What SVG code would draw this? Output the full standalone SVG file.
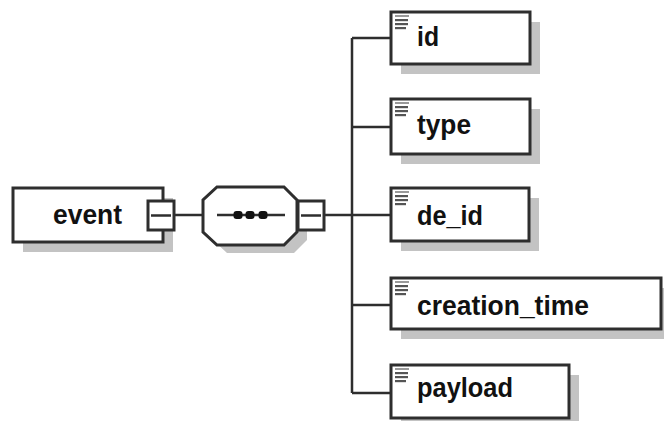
<svg xmlns="http://www.w3.org/2000/svg" width="664" height="421" viewBox="0 0 664 421">
<style>
.box{fill:#fff;stroke:#2e2e2e;stroke-width:3}
.sh{fill:#c3c3c3}
.ln{stroke:#2e2e2e;stroke-width:2.5;fill:none}
.t{font-family:"Liberation Sans",Arial,sans-serif;font-weight:bold;font-size:28px;fill:#111}
.ic{fill:#555}
</style>
<defs>
<g id="icon">
<rect x="0" y="0" width="14" height="2" fill="#999"/>
<rect x="0" y="4" width="13" height="2.2" class="ic"/>
<rect x="0" y="8" width="13" height="2.2" class="ic"/>
<rect x="0" y="12" width="11" height="2.2" class="ic"/>
</g>
</defs>
<rect width="664" height="421" fill="#fff"/>
<g id="connectors">
<line class="ln" x1="174" y1="215" x2="203" y2="215"/>
<line class="ln" x1="324" y1="215" x2="352" y2="215"/>
<line class="ln" x1="352" y1="38" x2="352" y2="393"/>
<line class="ln" x1="352" y1="38" x2="391" y2="38"/>
<line class="ln" x1="352" y1="127" x2="391" y2="127"/>
<line class="ln" x1="352" y1="215" x2="391" y2="215"/>
<line class="ln" x1="352" y1="305" x2="391" y2="305"/>
<line class="ln" x1="352" y1="393" x2="391" y2="393"/>
</g>
<g id="event">
<rect class="sh" x="23" y="198" width="150" height="54"/>
<rect class="box" x="13" y="188" width="150" height="54"/>
<text class="t" x="53" y="224" textLength="69" lengthAdjust="spacingAndGlyphs">event</text>
<rect class="box" x="148" y="201" width="26" height="29"/>
<line class="ln" x1="151" y1="215.5" x2="171" y2="215.5" stroke="#444"/>
</g>
<g id="sequence">
<polygon class="sh" points="227,195 294,195 307,208 307,240 294,253 227,253 213,240 213,208"/>
<polygon class="box" points="217,187 284,187 297,200 297,232 284,245 217,245 203,232 203,200"/>
<line class="ln" x1="217" y1="215" x2="285" y2="215"/>
<rect x="233.5" y="211" width="9" height="8" rx="3" fill="#111"/>
<rect x="245.5" y="211" width="9" height="8" rx="3" fill="#111"/>
<rect x="258.5" y="211" width="9" height="8" rx="3" fill="#111"/>
<rect class="box" x="298" y="201" width="26" height="29"/>
<line class="ln" x1="301" y1="215.5" x2="321" y2="215.5" stroke="#444"/>
</g>
<g id="id">
<rect class="sh" x="401" y="22" width="139" height="52"/>
<rect class="box" x="391" y="12" width="139" height="52"/>
<use href="#icon" x="395" y="15"/>
<text class="t" x="417" y="46" textLength="22" lengthAdjust="spacingAndGlyphs">id</text>
</g>
<g id="type">
<rect class="sh" x="401" y="109" width="139" height="55"/>
<rect class="box" x="391" y="99" width="139" height="55"/>
<use href="#icon" x="395" y="102"/>
<text class="t" x="417" y="134" textLength="54" lengthAdjust="spacingAndGlyphs">type</text>
</g>
<g id="de_id">
<rect class="sh" x="401" y="198" width="138" height="53"/>
<rect class="box" x="391" y="188" width="138" height="53"/>
<use href="#icon" x="395" y="191"/>
<text class="t" x="417" y="225" textLength="66" lengthAdjust="spacingAndGlyphs">de_id</text>
</g>
<g id="creation_time">
<rect class="sh" x="401" y="288" width="270" height="51"/>
<rect class="box" x="391" y="278" width="270" height="51"/>
<use href="#icon" x="395" y="281"/>
<text class="t" x="417" y="315" textLength="172" lengthAdjust="spacingAndGlyphs">creation_time</text>
</g>
<g id="payload">
<rect class="sh" x="401" y="375" width="178" height="53"/>
<rect class="box" x="391" y="365" width="178" height="53"/>
<use href="#icon" x="395" y="368"/>
<text class="t" x="417" y="397" textLength="96" lengthAdjust="spacingAndGlyphs">payload</text>
</g>
</svg>
